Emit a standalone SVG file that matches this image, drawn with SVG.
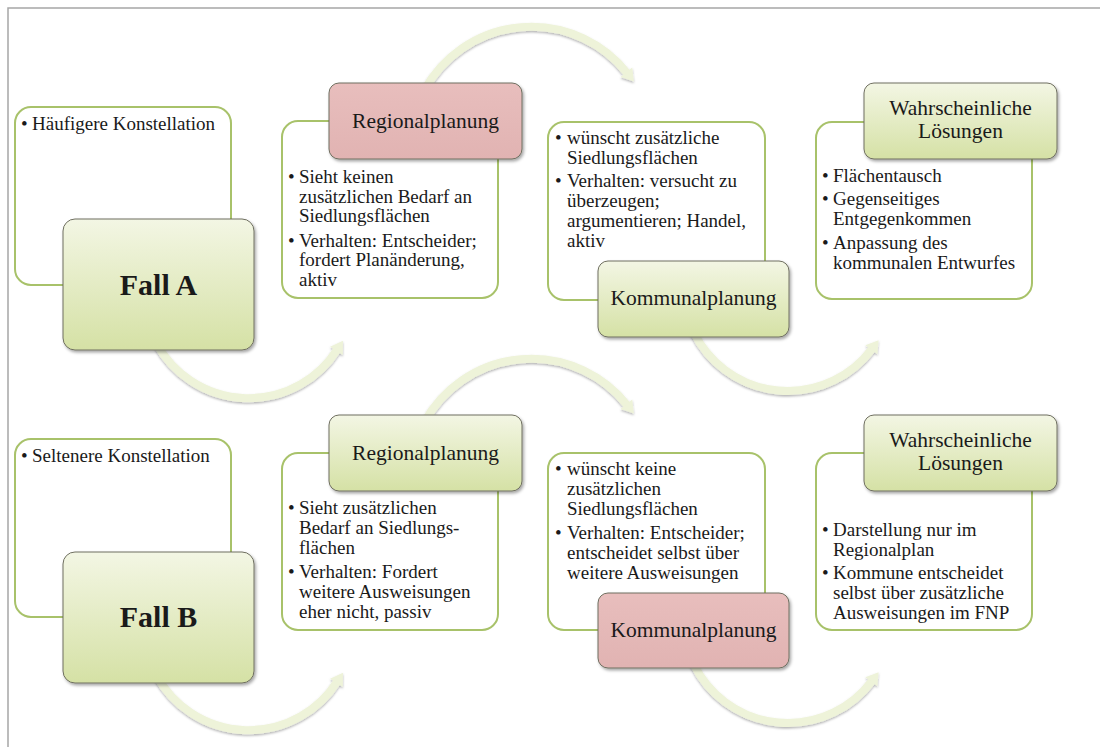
<svg xmlns="http://www.w3.org/2000/svg" width="1100" height="747" viewBox="0 0 1100 747">
  <style>
    .frame { stroke: #a6a6a6; stroke-width: 1.5; fill: none; }
    .panel { fill: #ffffff; stroke: #a8c26a; stroke-width: 2; }
    .head-green { fill: url(#gGreen); stroke: #6f6f60; stroke-width: 1; filter: url(#boxShadow); }
    .head-pink { fill: url(#gPink); stroke: #6f6f60; stroke-width: 1; filter: url(#boxShadow); }
    .arc { fill: none; stroke: #eef3d9; stroke-width: 8; marker-end: url(#ah); }
    text { font-family: "Liberation Serif", "Times New Roman", serif; fill: #1a1a1a; }
    .txt { font-size: 19px; }
    .ttl { font-size: 21.5px; text-anchor: middle; }
    .case { font-size: 30px; font-weight: bold; text-anchor: middle; }
  </style>
  <defs>
    <linearGradient id="gGreen" x1="0" y1="0" x2="0" y2="1">
      <stop offset="0" stop-color="#f3f6e4"/>
      <stop offset="1" stop-color="#d5e1a5"/>
    </linearGradient>
    <linearGradient id="gPink" x1="0" y1="0" x2="0" y2="1">
      <stop offset="0" stop-color="#e8bebd"/>
      <stop offset="1" stop-color="#e1b3b2"/>
    </linearGradient>
    <filter id="boxShadow" x="-10%" y="-10%" width="125%" height="130%">
      <feDropShadow dx="1.5" dy="2" stdDeviation="1.5" flood-color="#000" flood-opacity="0.35"/>
    </filter>
    <filter id="arcShadow" x="-10%" y="-10%" width="120%" height="130%">
      <feDropShadow dx="0" dy="1.5" stdDeviation="1.2" flood-color="#000" flood-opacity="0.3"/>
    </filter>
    <marker id="ah" markerUnits="userSpaceOnUse" markerWidth="14" markerHeight="16" refX="1" refY="8" orient="auto" overflow="visible">
      <path d="M0,0.5 L12,8 L0,15.5 z" fill="#eef3d9"/>
    </marker>
  </defs>

  <!-- page frame -->
  <path class="frame" d="M8,747 V8 H1100"/>

  <!-- curved arrows -->
  <g id="connectors" filter="url(#arcShadow)">
    <path class="arc" d="M156.8,344 A105,105 0 0 0 337,350"/>
    <path class="arc" d="M424.5,90 A122,122 0 0 1 627,73"/>
    <path class="arc" d="M693.6,332 A105,105 0 0 0 872,349"/>
    <path class="arc" d="M156.8,676 A105,105 0 0 0 337,682"/>
    <path class="arc" d="M424.5,422 A122,122 0 0 1 627,405"/>
    <path class="arc" d="M693.6,664 A105,105 0 0 0 872,681"/>
  </g>

  <!-- Fall A -->
  <g id="caseA">
    <rect class="panel" x="15" y="107" width="216" height="178" rx="16"/>
    <text class="txt" x="21" y="130">•</text>
    <text class="txt" x="32" y="130">Häufigere Konstellation</text>
    <rect class="head-green" x="63" y="219" width="191" height="131" rx="12"/>
    <text class="case" x="158.5" y="295">Fall A</text>
  </g>

  <g id="regionalA">
    <rect class="panel" x="282" y="121" width="216" height="177" rx="16"/>
    <rect class="head-pink" x="329" y="83" width="193" height="76" rx="10"/>
    <text class="ttl" x="425.5" y="128">Regionalplanung</text>
    <text class="txt" x="288" y="183">•</text>
    <text class="txt" x="299" y="183">Sieht keinen</text>
    <text class="txt" x="299" y="202.5">zusätzlichen Bedarf an</text>
    <text class="txt" x="299" y="222">Siedlungsflächen</text>
    <text class="txt" x="288" y="246.5">•</text>
    <text class="txt" x="299" y="246.5">Verhalten: Entscheider;</text>
    <text class="txt" x="299" y="266">fordert Planänderung,</text>
    <text class="txt" x="299" y="285.5">aktiv</text>
  </g>

  <g id="kommunalA">
    <rect class="panel" x="548" y="122" width="217" height="178" rx="16"/>
    <text class="txt" x="555" y="143.5">•</text>
    <text class="txt" x="567" y="143.5">wünscht zusätzliche</text>
    <text class="txt" x="567" y="163.5">Siedlungsflächen</text>
    <text class="txt" x="555" y="187">•</text>
    <text class="txt" x="567" y="187">Verhalten: versucht zu</text>
    <text class="txt" x="567" y="207">überzeugen;</text>
    <text class="txt" x="567" y="227">argumentieren; Handel,</text>
    <text class="txt" x="567" y="246.5">aktiv</text>
    <rect class="head-green" x="598" y="261" width="191" height="76" rx="10"/>
    <text class="ttl" x="693.5" y="305">Kommunalplanung</text>
  </g>

  <g id="loesungA">
    <rect class="panel" x="816" y="122" width="216" height="177" rx="16"/>
    <rect class="head-green" x="864" y="83" width="193" height="76" rx="10"/>
    <text class="ttl" x="960.5" y="115">Wahrscheinliche</text>
    <text class="ttl" x="960.5" y="138">Lösungen</text>
    <text class="txt" x="822" y="182">•</text>
    <text class="txt" x="833" y="182">Flächentausch</text>
    <text class="txt" x="822" y="205">•</text>
    <text class="txt" x="833" y="205">Gegenseitiges</text>
    <text class="txt" x="833" y="225">Entgegenkommen</text>
    <text class="txt" x="822" y="248.5">•</text>
    <text class="txt" x="833" y="248.5">Anpassung des</text>
    <text class="txt" x="833" y="268.5">kommunalen Entwurfes</text>
  </g>

  <!-- Fall B -->
  <g id="caseB">
    <rect class="panel" x="15" y="439" width="216" height="178" rx="16"/>
    <text class="txt" x="21" y="462">•</text>
    <text class="txt" x="32" y="462">Seltenere Konstellation</text>
    <rect class="head-green" x="63" y="552" width="191" height="131" rx="12"/>
    <text class="case" x="158.5" y="627">Fall B</text>
  </g>

  <g id="regionalB">
    <rect class="panel" x="282" y="453" width="216" height="177" rx="16"/>
    <rect class="head-green" x="329" y="415" width="193" height="76" rx="10"/>
    <text class="ttl" x="425.5" y="460">Regionalplanung</text>
    <text class="txt" x="288" y="514">•</text>
    <text class="txt" x="299" y="514">Sieht zusätzlichen</text>
    <text class="txt" x="299" y="534">Bedarf an Siedlungs-</text>
    <text class="txt" x="299" y="554">flächen</text>
    <text class="txt" x="288" y="578">•</text>
    <text class="txt" x="299" y="578">Verhalten: Fordert</text>
    <text class="txt" x="299" y="598">weitere Ausweisungen</text>
    <text class="txt" x="299" y="618">eher nicht, passiv</text>
  </g>

  <g id="kommunalB">
    <rect class="panel" x="548" y="453" width="217" height="177" rx="16"/>
    <text class="txt" x="555" y="475">•</text>
    <text class="txt" x="567" y="475">wünscht keine</text>
    <text class="txt" x="567" y="495">zusätzlichen</text>
    <text class="txt" x="567" y="515">Siedlungsflächen</text>
    <text class="txt" x="555" y="539">•</text>
    <text class="txt" x="567" y="539">Verhalten: Entscheider;</text>
    <text class="txt" x="567" y="559">entscheidet selbst über</text>
    <text class="txt" x="567" y="579">weitere Ausweisungen</text>
    <rect class="head-pink" x="598" y="593" width="191" height="75" rx="10"/>
    <text class="ttl" x="693.5" y="637">Kommunalplanung</text>
  </g>

  <g id="loesungB">
    <rect class="panel" x="816" y="453" width="216" height="177" rx="16"/>
    <rect class="head-green" x="864" y="415" width="193" height="76" rx="10"/>
    <text class="ttl" x="960.5" y="447">Wahrscheinliche</text>
    <text class="ttl" x="960.5" y="470">Lösungen</text>
    <text class="txt" x="822" y="536">•</text>
    <text class="txt" x="833" y="536">Darstellung nur im</text>
    <text class="txt" x="833" y="556">Regionalplan</text>
    <text class="txt" x="822" y="579">•</text>
    <text class="txt" x="833" y="579">Kommune entscheidet</text>
    <text class="txt" x="833" y="599">selbst über zusätzliche</text>
    <text class="txt" x="833" y="619">Ausweisungen im FNP</text>
  </g>
</svg>
